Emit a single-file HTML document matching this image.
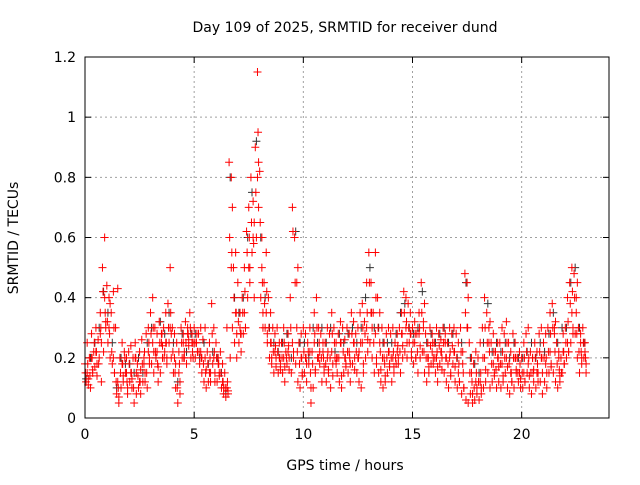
<!DOCTYPE html>
<html><head><meta charset="utf-8"><style>
body{margin:0;background:#fff;width:640px;height:480px;overflow:hidden}
svg text{font-family:"DejaVu Sans","Liberation Sans",sans-serif;font-size:14px;fill:#000}
</style></head><body>
<svg id="chart" width="640" height="480" xmlns="http://www.w3.org/2000/svg">
<text x="345" y="32" text-anchor="middle">Day 109 of 2025, SRMTID for receiver dund</text>
<text x="345" y="470" text-anchor="middle">GPS time / hours</text>
<text x="0" y="0" text-anchor="middle" transform="translate(18,238) rotate(-90)">SRMTID / TECUs</text>
<g id="grid"></g>
<g id="ticks"></g>
<g id="marks"></g>
<rect x="85" y="57" width="524" height="361" fill="none" stroke="#000" stroke-width="1"/>
</svg>
<script>
const xTicks=[0,5,10,15,20];
const yTicks=[0,0.2,0.4,0.6,0.8,1,1.2];
const yTickLabels=["0","0.2","0.4","0.6","0.8","1","1.2"];
const redA=[.18,.25,.2,.28,.22,.3,.26,.35,.5,.6,
.44,.4,.35,.42,.3,.43,.2,.25,.22,.2,
.22,.24,.2,.25,.18,.22,.26,.2,.28,.3,
.35,.4,.3,.28,.32,.25,.3,.35,.38,.5,
.3,.28,.25,.22,.3,.28,.32,.3,.35,.28,
.3,.25,.28,.3,.26,.3,.22,.25,.38,.3,
.25,.2,.22,.18,.15,.3,.85,.8,.5,.55,
.45,.35,.4,.5,.62,.7,.8,.72,.9,1.15,
.82,.6,.45,.55,.4,.35,.3,.28,.3,.25,
.25,.3,.22,.28,.4,.7,.6,.3,.25,.28,
.3,.28,.25,.3,.22,.35,.4,.3,.28,.25,
.25,.3,.28,.35,.3,.25,.28,.32,.3,.26,
.3,.28,.35,.32,.28,.3,.35,.38,.32,.45,
.55,.45,.35,.55,.4,.35,.3,.25,.28,.3,
.28,.3,.25,.28,.3,.35,.42,.4,.38,.35,
.3,.32,.28,.35,.45,.3,.28,.25,.3,.28,
.25,.3,.28,.26,.3,.28,.25,.3,.28,.3,
.28,.25,.3,.22,.48,.45,.25,.2,.18,.22,
.2,.25,.3,.4,.35,.3,.25,.28,.22,.25,
.25,.3,.28,.32,.25,.22,.28,.25,.2,.22,
.2,.25,.28,.3,.22,.2,.25,.22,.28,.3,
.25,.28,.3,.35,.38,.3,.25,.22,.2,.28,
.3,.4,.45,.5,.48,.35,.3,.28,.3,.25];
const redB=[.12,.13,.1,.15,.17,.14,.2,.12,.22,.3,
.25,.2,.18,.15,.08,.05,.1,.12,.15,.08,
.12,.1,.05,.15,.1,.08,.12,.15,.1,.18,
.18,.15,.2,.12,.15,.2,.22,.18,.25,.2,
.15,.1,.05,.12,.2,.22,.18,.24,.2,.25,
.2,.22,.18,.15,.12,.1,.12,.15,.18,.12,
.12,.15,.1,.08,.07,.08,.2,.3,.25,.2,
.25,.22,.28,.3,.4,.5,.55,.4,.6,.7,
.4,.3,.3,.25,.2,.18,.15,.2,.15,.18,
.15,.12,.18,.2,.15,.2,.18,.12,.1,.15,
.15,.12,.18,.05,.1,.15,.2,.18,.12,.15,
.12,.15,.1,.18,.2,.15,.12,.1,.15,.18,
.15,.12,.18,.2,.15,.12,.1,.18,.2,.22,
.25,.2,.15,.2,.15,.12,.1,.12,.15,.18,
.12,.15,.18,.2,.15,.2,.22,.2,.25,.2,
.18,.2,.15,.2,.22,.15,.12,.15,.18,.2,
.15,.12,.18,.2,.15,.12,.1,.15,.18,.12,
.1,.12,.08,.1,.06,.05,.08,.05,.06,.08,
.06,.08,.1,.12,.15,.1,.12,.15,.1,.12,
.1,.12,.15,.1,.08,.12,.1,.15,.12,.1,
.1,.12,.15,.1,.08,.12,.1,.15,.12,.08,
.12,.1,.15,.18,.15,.12,.1,.12,.15,.18,
.2,.22,.25,.3,.28,.2,.15,.18,.2,.15];
const redD=[.15,.18,.14,.2,.25,.22,.18,.3,.42,.35,
.32,.28,.22,.3,.12,.1,.15,.18,.2,.12,
.18,.15,.1,.2,.14,.12,.18,.22,.15,.25,
.28,.3,.22,.18,.25,.28,.2,.25,.3,.35,
.22,.15,.1,.18,.25,.2,.25,.28,.3,.22,
.25,.28,.22,.2,.18,.15,.18,.2,.28,.22,
.2,.18,.15,.12,.1,.12,.6,.55,.4,.35,
.32,.28,.35,.42,.55,.6,.65,.58,.75,.95,
.65,.45,.38,.42,.3,.25,.22,.24,.22,.2,
.2,.25,.2,.24,.3,.62,.45,.22,.18,.2,
.22,.2,.22,.15,.18,.28,.3,.25,.2,.2,
.18,.22,.2,.28,.25,.2,.2,.25,.22,.2,
.22,.2,.28,.25,.22,.2,.25,.3,.28,.35,
.45,.35,.25,.4,.3,.22,.2,.18,.2,.22,
.2,.22,.2,.24,.22,.28,.35,.32,.3,.28,
.25,.28,.22,.3,.35,.22,.2,.2,.24,.25,
.2,.22,.24,.22,.25,.2,.18,.22,.24,.22,
.2,.18,.22,.15,.35,.3,.15,.12,.1,.15,
.12,.15,.2,.3,.25,.22,.18,.22,.16,.2,
.18,.22,.2,.25,.18,.15,.2,.2,.15,.18,
.15,.2,.22,.2,.15,.15,.2,.18,.22,.2,
.2,.2,.22,.28,.3,.22,.18,.16,.15,.22,
.25,.32,.38,.42,.4,.28,.22,.22,.25,.2];
const redC=[.15,.2,.22,.28,.4, .3,.2,.12,.18,.15, .15,.2,.12,.18,.22, .25,.22,.28,.25,.3,
.2,.15,.25,.28,.25, .25,.22,.2,.15,.2, .18,.12,.1,.5,.35, .3,.35,.5,.6,.8,
.5,.35,.25,.22,.2, .2,.22,.25,.45,.2, .2,.22,.25,.2,.22, .2,.22,.18,.25,.2,
.22,.25,.2,.25,.3, .35,.28,.25,.2,.22, .2,.22,.28,.3,.28, .25,.28,.32,.2,.22,
.2,.22,.25,.2,.22, .15,.18,.3,.15,.12, .12,.2,.25,.18,.2, .18,.2,.15,.2,.15,
.15,.18,.2,.15,.2, .18,.22,.28,.2,.22, .25,.35,.4,.25,.22];
const redE=[.11,.16,.18,.25,.32, .38,.15,.07,.14,.1, .13,.08,.16,.12,.2, .22,.17,.24,.2,.28,
.18,.08,.2,.26,.2, .22,.2,.16,.12,.15, .14,.1,.09,.7,.28, .28,.3,.45,.65,.85,
.35,.28,.2,.17,.16, .17,.16,.22,.5,.14, .18,.1,.16,.22,.17, .16,.14,.2,.14,.17,
.18,.16,.22,.15,.26, .3,.18,.16,.14,.17, .17,.18,.24,.25,.22, .2,.24,.38,.17,.18,
.17,.16,.2,.14,.17, .12,.1,.4,.08,.1, .1,.16,.32,.14,.17, .14,.17,.12,.16,.13,
.12,.14,.16,.12,.15, .15,.17,.32,.14,.18, .22,.28,.45,.2,.18];
const blackK=[.13,.2,.25,.3,.42, .35,.25,.1,.2,.18, .18,.15,.2,.15,.25, .3,.2,.32,.28,.35,
.25,.12,.28,.22,.28, .28,.2,.25,.18,.22, .2,.15,.08,.8,.4, .35,.4,.6,.75,.92,
.6,.4,.3,.25,.22, .25,.28,.2,.62,.25, .25,.2,.3,.25,.3, .25,.3,.22,.28,.25,
.28,.3,.25,.3,.4, .5,.3,.3,.25,.25, .25,.28,.35,.38,.3, .28,.3,.42,.25,.28,
.25,.28,.3,.25,.28, .2,.25,.45,.2,.18, .15,.25,.38,.22,.25, .22,.25,.2,.25,.2,
.2,.22,.25,.2,.25, .22,.28,.35,.25,.3, .3,.45,.5,.3,.25];

const X0=85,X1=609,Y0=418,Y1=57;
const xs=t=>X0+t*(X1-X0)/24;
const ys=v=>Y0-v*(Y0-Y1)/1.2;
const NS="http://www.w3.org/2000/svg";
function mk(tag,at,parent){const e=document.createElementNS(NS,tag);for(const k in at)e.setAttribute(k,at[k]);parent.appendChild(e);return e;}
const grid=document.getElementById('grid'),ticks=document.getElementById('ticks'),marks=document.getElementById('marks');
xTicks.forEach(t=>{const x=xs(t);
 if(t>0){const g=mk('line',{x1:x,y1:Y0,x2:x,y2:Y1,stroke:'#a0a0a0','stroke-dasharray':'2,3'},grid);
 
 }
 mk('line',{x1:x,y1:Y0,x2:x,y2:Y0-6,stroke:'#000'},ticks);mk('line',{x1:x,y1:Y1,x2:x,y2:Y1+6,stroke:'#000'},ticks);
 const l=mk('text',{x:x,y:Y0+21,'text-anchor':'middle'},ticks);l.textContent=String(t);
 
 
});
yTicks.forEach((v,i)=>{const y=ys(v);
 if(v>0&&v<1.2){const g=mk('line',{x1:X0,y1:y,x2:X1,y2:y,stroke:'#a0a0a0','stroke-dasharray':'2,3'},grid);
 
 }
 mk('line',{x1:X0,y1:y,x2:X0+6,y2:y,stroke:'#000'},ticks);mk('line',{x1:X1,y1:y,x2:X1-6,y2:y,stroke:'#000'},ticks);
 const l=mk('text',{x:X0-9,y:y+5,'text-anchor':'end'},ticks);l.textContent=yTickLabels[i];
 
 
});
function plus(t,v,color,name){const x=xs(t),y=ys(v);
 const p=mk('path',{d:`M${x-4},${y}H${x+4}M${x},${y-4}V${y+4}`,stroke:color,'stroke-width':1,fill:'none'},marks);
 
 
}
blackK.forEach((v,i)=>plus(i*0.2+0.05,v,'#333','black-point'));
redA.forEach((v,i)=>plus(i*0.1,v,'#ff0000','red-point'));
redB.forEach((v,i)=>plus(i*0.1+0.05,v,'#ff0000','red-point'));
redD.forEach((v,i)=>plus(i*0.1+0.025,v,'#ff0000','red-point'));
redC.forEach((v,i)=>plus(i*0.2+0.1,v,'#ff0000','red-point'));
redE.forEach((v,i)=>plus(i*0.2+0.15,v,'#ff0000','red-point'));
</script>
</body></html>
